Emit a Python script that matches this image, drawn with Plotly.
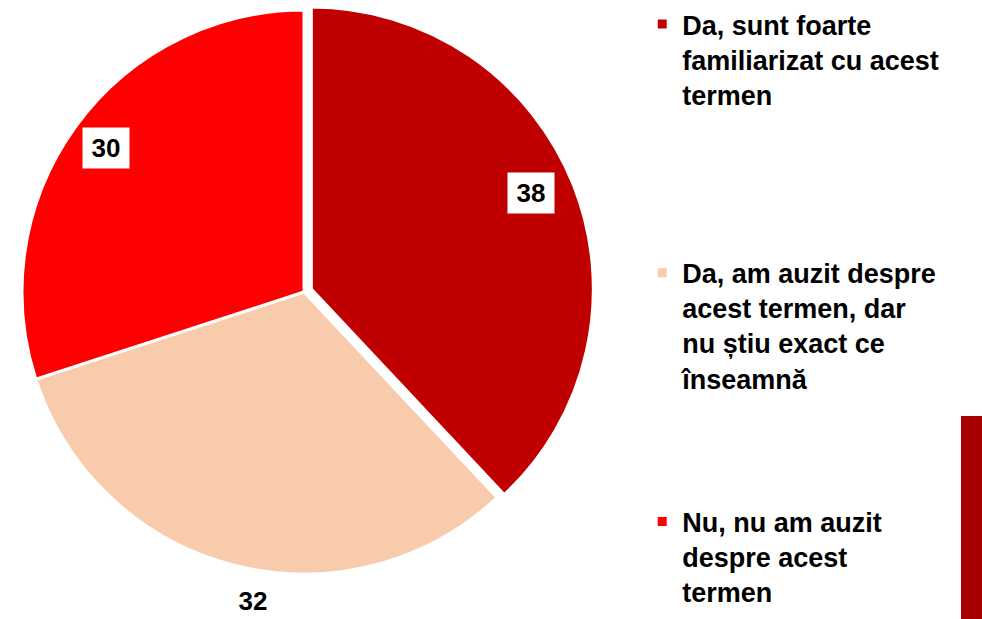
import math
import plotly.graph_objects as go

# ---- data ----
categories = [
    "Da, sunt foarte<br>familiarizat cu acest<br>termen",
    "Da, am auzit despre<br>acest termen, dar<br>nu știu exact ce<br>înseamnă",
    "Nu, nu am auzit<br>despre acest<br>termen",
]
values = [38, 32, 30]
value_labels = ["38", "32", "30"]

# ---- style ----
colors = ["#C00000", "#F8CBAD", "#FF0000"]
pulls = [0.028, 0, 0]
legend_pad_lines = [4, 3, 0]
label_radius = [0.85, 1.11, 0.868]
label_angle_shift = [-2, -5, 0]
label_boxed = [True, False, True]

W, H = 982, 619
cx, cy, r = 304, 292, 282  # pixel centre/radius of the pie
box = 2 * r * (1 + max(pulls))

legend_names = []
for name, pad in zip(categories, legend_pad_lines):
    legend_names.append(name + "<br>\u00a0" * pad)

fig = go.Figure()
fig.add_trace(go.Pie(
    labels=legend_names,
    values=values,
    sort=False,
    direction="clockwise",
    rotation=0,
    pull=pulls,
    marker=dict(colors=colors, line=dict(color="white", width=3)),
    textinfo="none",
    hoverinfo="label+value",
    domain=dict(x=[(cx - box / 2) / W, (cx + box / 2) / W],
                y=[1 - (cy + box / 2) / H, 1 - (cy - box / 2) / H]),
    showlegend=True,
))

# data labels computed from the values
total = sum(values)
cum = 0
for i, v in enumerate(values):
    mid_true = (cum + v / 2) / total * 360
    mid = mid_true + label_angle_shift[i]
    cum += v
    th = math.radians(mid)
    ox = pulls[i] * r * math.sin(math.radians(mid_true))
    oy = -pulls[i] * r * math.cos(math.radians(mid_true))
    px = cx + ox + label_radius[i] * r * math.sin(th)
    py = cy + oy - label_radius[i] * r * math.cos(th)
    ann = dict(
        x=px / W, y=1 - py / H, xref="paper", yref="paper",
        text="<b>%s</b>" % value_labels[i], showarrow=False,
        font=dict(family="Liberation Sans, Arial, sans-serif", size=26, color="black"),
        xanchor="center", yanchor="middle",
    )
    if label_boxed[i]:
        ann.update(bgcolor="white", width=40, height=34, borderpad=3)
    else:
        ann.update(width=40, height=24, borderpad=0)
    fig.add_annotation(**ann)

# decorative dark-red bar at bottom right
fig.add_shape(type="rect", xref="paper", yref="paper",
              x0=961 / W, x1=1.0, y0=0, y1=1 - 416 / H,
              fillcolor="#A60000", line=dict(width=0), layer="above")

fig.update_layout(
    width=W, height=H,
    margin=dict(l=0, r=0, t=0, b=0, autoexpand=False),
    paper_bgcolor="white", plot_bgcolor="white",
    legend=dict(
        x=0.654, y=1.0, xanchor="left", yanchor="top",
        valign="top",
        font=dict(family="Liberation Sans, Arial, sans-serif", size=27, color="black", weight="bold"),
        bgcolor="rgba(0,0,0,0)",
        traceorder="normal",
    ),
)

fig.write_html(
    "out.html",
    config={"displayModeBar": False},
    post_script="document.body.style.margin='0';document.body.style.overflow='hidden';",
)
